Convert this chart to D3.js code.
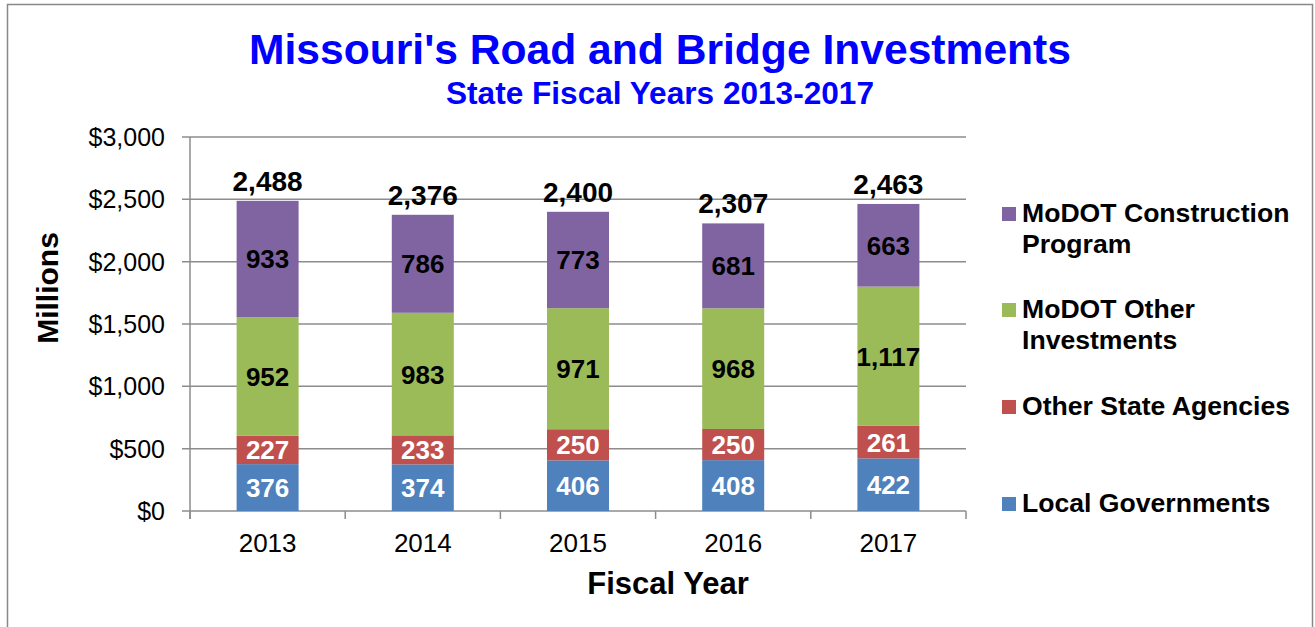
<!DOCTYPE html>
<html><head><meta charset="utf-8">
<script src="https://cdn.jsdelivr.net/npm/d3@7"></script>
<style>body{margin:0;background:#fff;} svg{display:block;font-family:"Liberation Sans",Arial,sans-serif;}</style>
</head><body>
<svg id="c" width="1315" height="627"></svg>
<script>
const years = ["2013","2014","2015","2016","2017"];
const localGov = [376,374,406,408,422];
const otherState = [227,233,250,250,261];
const modotOther = [952,983,971,968,1117];
const modotConstruction = [933,786,773,681,663];
const totals = [2488,2376,2400,2307,2463];
const yTicks = [0,500,1000,1500,2000,2500,3000];
const seriesNames = ["Local Governments","Other State Agencies","MoDOT Other Investments","MoDOT Construction Program"];
const seriesColors = ["#4F81BD","#C0504D","#9BBB59","#8064A2"];
const labelColors = ["#fff","#fff","#000","#000"];

const svg = d3.select("#c");
svg.append("rect").attr("x",7.5).attr("y",4.5).attr("width",1305).attr("height",640)
  .attr("fill","#fff").attr("stroke","#888").attr("stroke-width",1.5);

const L=190,R=966,T=137,B=511;
const x = d3.scaleBand().domain(years).range([L,R]).paddingInner(0.6).paddingOuter(0.3);
const y = d3.scaleLinear().domain([0,3000]).range([B,T]);

// gridlines
svg.append("g").selectAll("line").data(yTicks).join("line")
  .attr("x1",L-8).attr("x2",R).attr("y1",d=>y(d)).attr("y2",d=>y(d))
  .attr("stroke","#8c8c8c").attr("stroke-width",1.5);
// y axis line
svg.append("line").attr("x1",L).attr("x2",L).attr("y1",T).attr("y2",B+8).attr("stroke","#8c8c8c").attr("stroke-width",1.5);
// x category ticks
const step = (R-L)/years.length;
svg.append("g").selectAll("line").data(d3.range(years.length+1)).join("line")
  .attr("x1",i=>L+i*step).attr("x2",i=>L+i*step).attr("y1",B).attr("y2",B+8)
  .attr("stroke","#8c8c8c").attr("stroke-width",1.5);

// y tick labels
svg.append("g").selectAll("text").data(yTicks).join("text")
  .attr("x",165).attr("y",d=>y(d)+9).attr("text-anchor","end")
  .attr("font-size",25).attr("fill","#000").text(d=>"$"+d3.format(",")(d));

// stacked
const data = years.map((yr,i)=>({year:yr, v:[localGov[i],otherState[i],modotOther[i],modotConstruction[i]]}));
const stackKeys=[0,1,2,3];
const stacked = d3.stack().keys(stackKeys).value((d,k)=>d.v[k])(data);
const bw = 62;
stacked.forEach((layer,k)=>{
  const g = svg.append("g");
  g.selectAll("rect").data(layer).join("rect")
    .attr("x",d=>x(d.data.year)+x.bandwidth()/2-bw/2).attr("width",bw)
    .attr("y",d=>y(d[1])).attr("height",d=>y(d[0])-y(d[1]))
    .attr("fill",seriesColors[k]);
  g.selectAll("text").data(layer).join("text")
    .attr("x",d=>x(d.data.year)+x.bandwidth()/2)
    .attr("y",d=>(y(d[0])+y(d[1]))/2+9.5)
    .attr("text-anchor","middle").attr("font-size",26).attr("font-weight","bold")
    .attr("fill",labelColors[k]).text(d=>d3.format(",")(d.data.v[k]));
});
// totals
svg.append("g").selectAll("text").data(years).join("text")
  .attr("x",d=>x(d)+x.bandwidth()/2).attr("y",(d,i)=>y(totals[i])-10)
  .attr("text-anchor","middle").attr("font-size",28).attr("font-weight","bold")
  .text((d,i)=>d3.format(",")(totals[i]));

// x labels
svg.append("g").selectAll("text").data(years).join("text")
  .attr("x",d=>x(d)+x.bandwidth()/2).attr("y",552).attr("text-anchor","middle")
  .attr("font-size",26).text(d=>d);

// titles
svg.append("text").attr("x",660).attr("y",64).attr("text-anchor","middle")
  .attr("font-size",42.6).attr("font-weight","bold").attr("fill","#0000FF").text("Missouri's Road and Bridge Investments");
svg.append("text").attr("x",660).attr("y",104).attr("text-anchor","middle")
  .attr("font-size",31.6).attr("font-weight","bold").attr("fill","#0000FF").text("State Fiscal Years 2013-2017");
svg.append("text").attr("x",668).attr("y",594).attr("text-anchor","middle")
  .attr("font-size",31).attr("font-weight","bold").text("Fiscal Year");
svg.append("text").attr("transform","translate(58,288) rotate(-90)").attr("text-anchor","middle")
  .attr("font-size",30).attr("font-weight","bold").text("Millions");

// legend
const legend = [
  {k:3, lines:["MoDOT Construction","Program"], y:222},
  {k:2, lines:["MoDOT Other","Investments"], y:318},
  {k:1, lines:["Other State Agencies"], y:415},
  {k:0, lines:["Local Governments"], y:512}
];
legend.forEach(e=>{
  svg.append("rect").attr("x",1002).attr("y",e.y-15).attr("width",14).attr("height",14).attr("fill",seriesColors[e.k]);
  const t = svg.append("text").attr("x",1022).attr("y",e.y).attr("font-size",26.6).attr("font-weight","bold");
  e.lines.forEach((ln,i)=>t.append("tspan").attr("x",1022).attr("dy",i?31:0).text(ln));
});
</script>
</body></html>
